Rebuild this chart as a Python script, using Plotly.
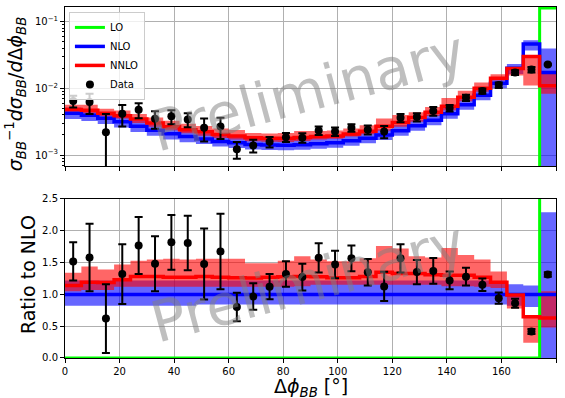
import plotly.graph_objects as go

# ---------------- data ----------------
bin_edges = [0, 6, 12, 18, 24, 30, 36, 42, 48, 54, 60, 66, 72, 78, 84, 90,
             96, 102, 108, 114, 120, 126, 132, 138, 144, 150, 156, 162, 168, 174, 180]

lo = [0, 0, 0, 0, 0, 0, 0, 0, 0, 0, 0, 0, 0, 0, 0, 0, 0, 0, 0, 0,
      0, 0, 0, 0, 0, 0, 0, 0, 0, 0.160]

nlo = [0.00424, 0.00394, 0.00355, 0.00315, 0.00270, 0.00236, 0.00209, 0.00189,
       0.00174, 0.00160, 0.00152, 0.00144, 0.00141, 0.00140, 0.00143, 0.00148,
       0.00153, 0.00164, 0.00178, 0.00200, 0.00231, 0.00274, 0.00333, 0.00415,
       0.00566, 0.00790, 0.01190, 0.02000, 0.04600, 0.01730]

nnlo = [0.00483, 0.00469, 0.00422, 0.00387, 0.00346, 0.00302, 0.00265, 0.00240,
        0.00223, 0.00203, 0.00192, 0.00181, 0.00179, 0.00179, 0.00183, 0.00189,
        0.00193, 0.00207, 0.00228, 0.00270, 0.00307, 0.00364, 0.00436, 0.00540,
        0.00736, 0.01003, 0.01416, 0.01980, 0.02990, 0.01090]

# scale-uncertainty bands, expressed relative to the NLO central value
nlo_band_lo = [0.82, 0.82, 0.82, 0.82, 0.82, 0.82, 0.82, 0.82, 0.84, 0.84,
               0.84, 0.84, 0.84, 0.84, 0.84, 0.84, 0.84, 0.84, 0.84, 0.84,
               0.84, 0.84, 0.84, 0.84, 0.84, 0.84, 0.84, 0.82, 0.80, 0.0]
nlo_band_hi = [1.22, 1.22, 1.22, 1.22, 1.22, 1.22, 1.22, 1.22, 1.22, 1.22,
               1.22, 1.22, 1.22, 1.22, 1.22, 1.22, 1.22, 1.22, 1.22, 1.22,
               1.22, 1.22, 1.22, 1.22, 1.22, 1.22, 1.18, 1.16, 1.14, 2.29]
nnlo_band_lo = [1.05, 1.07, 1.07, 1.12, 1.12, 1.12, 1.12, 1.12, 1.12, 1.12,
                1.12, 1.12, 1.12, 1.12, 1.13, 1.15, 1.15, 1.15, 1.15, 1.15,
                1.15, 1.15, 1.15, 1.13, 1.13, 1.12, 1.10, 0.78, 0.24, 0.48]
nnlo_band_hi = [1.34, 1.44, 1.39, 1.47, 1.53, 1.55, 1.56, 1.55, 1.56, 1.56,
                1.56, 1.49, 1.49, 1.53, 1.60, 1.55, 1.52, 1.52, 1.57, 1.76,
                1.72, 1.60, 1.58, 1.73, 1.62, 1.55, 1.36, 1.02, 0.67, 1.05]

data = [0.00644, 0.00622, 0.00220, 0.00416, 0.00478, 0.00350, 0.00380, 0.00342,
        0.00257, 0.00268, 0.00122, 0.00139, 0.00158, 0.00185, 0.00182, 0.00233,
        0.00225, 0.00257, 0.00240, 0.00225, 0.00362, 0.00370, 0.00456, 0.00506,
        0.00724, 0.00910, 0.01120, 0.01720, 0.01910, 0.02270]
data_err = [0.00127, 0.00209, 0.00192, 0.00148, 0.00121, 0.00102, 0.00090, 0.00081,
            0.00097, 0.00095, 0.00034, 0.00030, 0.00028, 0.00028, 0.00030, 0.00034,
            0.00033, 0.00033, 0.00037, 0.00046, 0.00051, 0.00052, 0.00067, 0.00058,
            0.00079, 0.00079, 0.00107, 0.00142, 0.00182, 0.00061]

x_ticks = [0, 20, 40, 60, 80, 100, 120, 140, 160, 180]
y_top_ticks = [1e-3, 1e-2, 1e-1]
y_top_labels = ["10<sup>−3</sup>", "10<sup>−2</sup>", "10<sup>−1</sup>"]
y_bot_ticks = [0.0, 0.5, 1.0, 1.5, 2.0, 2.5]

# ---------------- helpers ----------------
centers = [(bin_edges[i] + bin_edges[i + 1]) / 2 for i in range(len(bin_edges) - 1)]


def step(v):
    return list(v) + [v[-1]]


def logsafe(v):
    return [x if x > 0 else 1e-9 for x in v]


FONT = "DejaVu Sans"
BLUE = "#0000ff"
RED = "#ff0000"
GREEN = "#00ff00"

fig = go.Figure()


def add_panel(xa, ya, vals_lo, vals_nlo, vals_nnlo, b_nlo_lo, b_nlo_hi,
              b_nnlo_lo, b_nnlo_hi, vdata, verr, legend, logy):
    f = logsafe if logy else (lambda v: v)
    common = dict(xaxis=xa, yaxis=ya, mode="lines", line_shape="hv",
                  hoverinfo="skip")
    fig.add_trace(go.Scatter(x=bin_edges, y=step(f(b_nlo_lo)), line=dict(width=0),
                             showlegend=False, **common))
    fig.add_trace(go.Scatter(x=bin_edges, y=step(f(b_nlo_hi)), line=dict(width=0),
                             fill="tonexty", fillcolor="rgba(0,0,255,0.6)",
                             showlegend=False, **common))
    fig.add_trace(go.Scatter(x=bin_edges, y=step(f(b_nnlo_lo)), line=dict(width=0),
                             showlegend=False, **common))
    fig.add_trace(go.Scatter(x=bin_edges, y=step(f(b_nnlo_hi)), line=dict(width=0),
                             fill="tonexty", fillcolor="rgba(255,0,0,0.6)",
                             showlegend=False, **common))
    fig.add_trace(go.Scatter(x=bin_edges, y=step(f(vals_lo)), name="LO",
                             line=dict(color=GREEN, width=3), showlegend=legend, **common))
    fig.add_trace(go.Scatter(x=bin_edges, y=step(f(vals_nlo)), name="NLO",
                             line=dict(color=BLUE, width=3.5), showlegend=legend, **common))
    fig.add_trace(go.Scatter(x=bin_edges, y=step(f(vals_nnlo)), name="NNLO",
                             line=dict(color=RED, width=3.5), showlegend=legend, **common))
    fig.add_trace(go.Scatter(x=centers, y=vdata, xaxis=xa, yaxis=ya, name="Data",
                             mode="markers", marker=dict(color="black", size=8),
                             error_y=dict(type="data", array=verr, color="black",
                                          thickness=2, width=4),
                             showlegend=legend, hoverinfo="skip"))


# top panel: absolute distributions
nlo_lo_abs = [n * r for n, r in zip(nlo, nlo_band_lo)]
nlo_hi_abs = [n * r for n, r in zip(nlo, nlo_band_hi)]
nnlo_lo_abs = [n * r for n, r in zip(nlo, nnlo_band_lo)]
nnlo_hi_abs = [n * r for n, r in zip(nlo, nnlo_band_hi)]
add_panel("x", "y", lo, nlo, nnlo, nlo_lo_abs, nlo_hi_abs, nnlo_lo_abs, nnlo_hi_abs,
          data, data_err, True, True)

# bottom panel: ratio to NLO
r_lo = [a / b for a, b in zip(lo, nlo)]
r_nlo = [a / b for a, b in zip(nlo, nlo)]
r_nnlo = [a / b for a, b in zip(nnlo, nlo)]
r_data = [a / b for a, b in zip(data, nlo)]
r_err = [a / b for a, b in zip(data_err, nlo)]
add_panel("x2", "y2", r_lo, r_nlo, r_nnlo, nlo_band_lo, nlo_band_hi,
          nnlo_band_lo, nnlo_band_hi, r_data, r_err, False, False)

axis_common = dict(showline=True, mirror=True, linecolor="black", linewidth=1,
                   ticks="outside", ticklen=4, tickcolor="black", tickwidth=1,
                   showgrid=True, gridcolor="#b0b0b0", gridwidth=1, zeroline=False,
                   automargin=False,
                   tickfont=dict(family=FONT, size=10, color="black"))

minor_vals = [7e-4, 8e-4, 9e-4] + [k * 1e-3 for k in range(2, 10)] + \
             [k * 1e-2 for k in range(2, 10)]

fig.update_layout(
    template="none",
    width=565, height=398,
    margin=dict(l=65, r=9, t=7, b=40, pad=0),
    paper_bgcolor="white", plot_bgcolor="white",
    font=dict(family=FONT, size=10, color="black"),
    xaxis=dict(domain=[0, 1], anchor="y", range=[0, 180], tickvals=x_ticks,
               showticklabels=False, **axis_common),
    yaxis=dict(domain=[0.547, 1], anchor="x", type="log", range=[-3.165, -0.781],
               tickvals=y_top_ticks, ticktext=y_top_labels,
               minor=dict(tickvals=minor_vals, ticks="outside", ticklen=2,
                          tickcolor="black", showgrid=False),
               **axis_common),
    xaxis2=dict(domain=[0, 1], anchor="y2", range=[0, 180], tickvals=x_ticks,
                matches="x", **axis_common),
    yaxis2=dict(domain=[0, 0.453], anchor="x2", range=[0, 2.5], tickvals=y_bot_ticks,
                tickformat=".1f", **axis_common),
    legend=dict(x=0.008, y=0.986, xanchor="left", yanchor="top", traceorder="normal",
                bgcolor="rgba(255,255,255,0.8)", bordercolor="#cccccc", borderwidth=1,
                font=dict(family=FONT, size=10, color="black"), tracegroupgap=0),
    showlegend=True,
)

annotations = [
    dict(text="Preliminary", xref="x domain", yref="y domain", x=0.495, y=0.47,
         showarrow=False, textangle=-15, xanchor="center", yanchor="middle",
         font=dict(family=FONT, size=57, color="rgba(128,128,128,0.5)")),
    dict(text="Preliminary", xref="x2 domain", yref="y2 domain", x=0.495, y=0.475,
         showarrow=False, textangle=-15, xanchor="center", yanchor="middle",
         font=dict(family=FONT, size=57, color="rgba(128,128,128,0.5)")),
    dict(text="<i>σ</i><sub><i>BB</i></sub><sup>−1</sup><i>dσ</i><sub><i>BB</i></sub>/<i>d</i>Δ<i>ϕ</i><sub><i>BB</i></sub>",
         xref="paper", yref="paper", x=-0.102, y=0.754, showarrow=False,
         textangle=-90, xanchor="center", yanchor="middle",
         font=dict(family=FONT, size=19, color="black")),
    dict(text="Ratio to NLO", xref="paper", yref="paper", x=-0.0754, y=0.239,
         showarrow=False, textangle=-90, xanchor="center", yanchor="middle",
         font=dict(family=FONT, size=19, color="black")),
    dict(text="Δ<i>ϕ</i><sub><i>BB</i></sub> [°]", xref="paper", yref="paper",
         x=0.5, y=-0.083, showarrow=False, xanchor="center", yanchor="middle",
         font=dict(family=FONT, size=19, color="black")),
]
fig.update_layout(annotations=annotations)

fig.write_html("out.html",
               config={"displayModeBar": False},
               post_script="document.body.style.margin='0';"
                           "document.body.style.overflow='hidden';")
